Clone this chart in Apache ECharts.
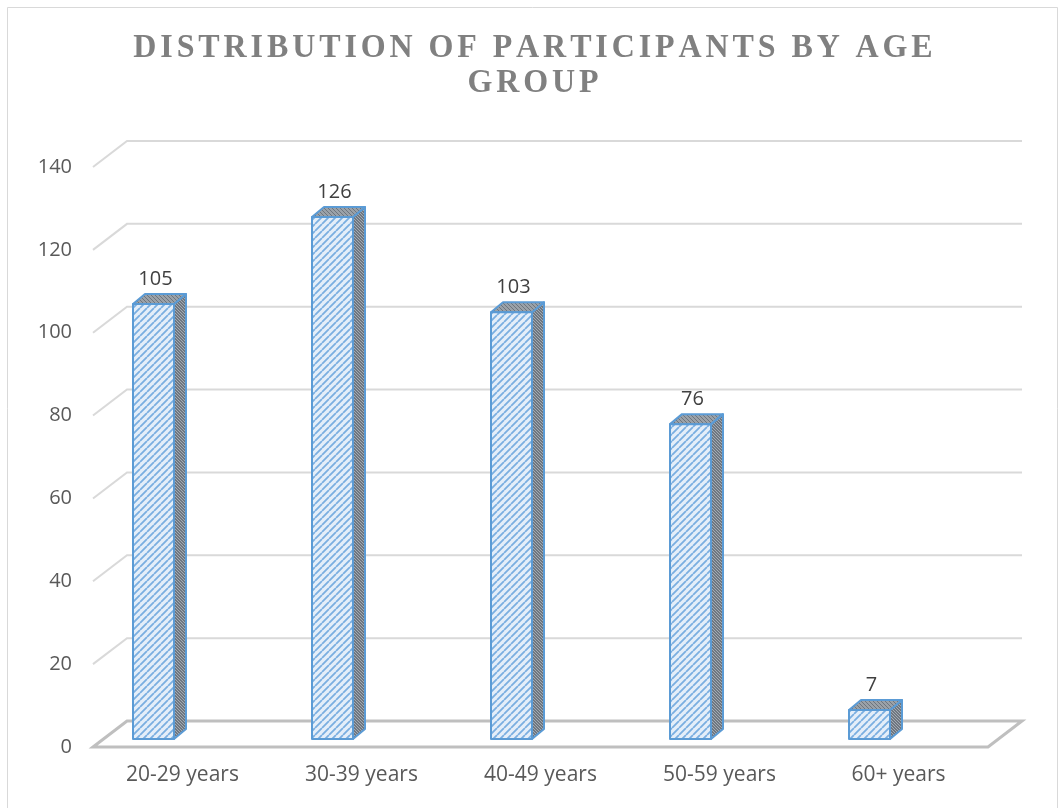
<!DOCTYPE html>
<html>
<head>
<meta charset="utf-8">
<script src="https://cdn.jsdelivr.net/npm/echarts@6/dist/echarts.min.js"></script>
<style>
  html, body { margin: 0; padding: 0; background: #ffffff; }
  #chart { width: 1059px; height: 808px; }
</style>
</head>
<body>
<div id="chart"></div>
<script>
// Age groups and participant counts
const categories = ['20-29 years', '30-39 years', '40-49 years', '50-59 years', '60+ years'];
const participants = [105, 126, 103, 76, 7];
const yTicks = [0, 20, 40, 60, 80, 100, 120, 140];
const titleLines = ['DISTRIBUTION OF PARTICIPANTS BY AGE', 'GROUP'];

// Oblique projection offsets (front plane -> back wall, bar face -> bar back)
const WALL_DX = 34, WALL_DY = -26;
const BAR_DX = 12, BAR_DY = -10;
const BAR_BASE_LIFT = 8;

const LABEL_FONT = '"Open Sans", Lato, sans-serif';
const TITLE_FONT = 'bold 32px "Liberation Serif", "DejaVu Serif", serif';
const TITLE_SPACING = 3.9;

function hatch(bg, fg, size, lw, dir) {
  const c = document.createElement('canvas');
  c.width = size; c.height = size;
  const g = c.getContext('2d');
  g.fillStyle = bg; g.fillRect(0, 0, size, size);
  g.strokeStyle = fg; g.lineWidth = lw;
  g.beginPath();
  for (let k = -1; k <= 1; k++) {
    if (dir > 0) {
      g.moveTo(k * size, size); g.lineTo(k * size + size, 0);
    } else {
      g.moveTo(k * size, 0); g.lineTo(k * size + size, size);
    }
  }
  g.stroke();
  return { image: c, repeat: 'repeat' };
}

const frontFill = hatch('#e4eef9', '#7aaee0', 7, 1.8, 1);
const sideFill = hatch('#6f7780', '#a3abb4', 3, 1, -1);
const topFill = hatch('#9aa1a8', '#6d757e', 4, 1, -1);

// Letter-spaced title line: one text element per glyph, centred on cx
const measureCtx = document.createElement('canvas').getContext('2d');
measureCtx.font = TITLE_FONT;
function spacedLine(str, cx, cy) {
  const widths = Array.from(str).map(ch => measureCtx.measureText(ch).width);
  const total = widths.reduce((a, b) => a + b, 0) + TITLE_SPACING * (widths.length - 1);
  let x = cx - total / 2;
  const children = [];
  Array.from(str).forEach((ch, i) => {
    if (ch !== ' ') {
      children.push({ type: 'text', x: x, y: cy, scaleY: 1.06, style: {
        text: ch, fill: '#808080', align: 'left', verticalAlign: 'middle', font: TITLE_FONT } });
    }
    x += widths[i] + TITLE_SPACING;
  });
  return { type: 'group', silent: true, children: children };
}

const chart = echarts.init(document.getElementById('chart'));

const option = {
  backgroundColor: '#ffffff',
  animation: false,
  graphic: [
    { type: 'rect', shape: { x: 7.5, y: 7.5, width: 1050, height: 810 },
      style: { fill: 'none', stroke: '#d9d9d9', lineWidth: 1 }, silent: true },
    spacedLine(titleLines[0], 533, 48),
    spacedLine(titleLines[1], 533, 83)
  ],
  grid: { left: 93, right: 71, top: 167, bottom: 61, containLabel: false },
  xAxis: {
    type: 'category',
    data: categories,
    axisLine: { show: false },
    axisTick: { show: false },
    axisLabel: { color: '#595959', fontSize: 21, fontFamily: LABEL_FONT, margin: 18 },
    splitLine: { show: false }
  },
  yAxis: {
    type: 'value',
    min: 0, max: 140, interval: 20,
    axisLine: { show: false },
    axisTick: { show: false },
    splitLine: { show: false },
    axisLabel: { color: '#595959', fontSize: 20, fontFamily: LABEL_FONT, margin: 21 }
  },
  series: [
    {
      // back wall gridlines and floor
      type: 'custom',
      coordinateSystem: 'cartesian2d',
      silent: true,
      z: 1,
      data: yTicks.map(v => [0, v]),
      renderItem: function (params, api) {
        const cs = params.coordSys;
        const v = api.value(1);
        const y = api.coord([0, v])[1];
        const x0 = cs.x, x1 = cs.x + cs.width;
        if (v === 0) {
          return {
            type: 'polygon',
            shape: { points: [[x0, y], [x0 + WALL_DX, y + WALL_DY], [x1 + WALL_DX, y + WALL_DY], [x1, y]] },
            style: { fill: 'none', stroke: '#bfbfbf', lineWidth: 3 }
          };
        }
        return {
          type: 'polyline',
          shape: { points: [[x0, y], [x0 + WALL_DX, y + WALL_DY], [x1 + WALL_DX, y + WALL_DY]] },
          style: { fill: 'none', stroke: '#d9d9d9', lineWidth: 2 }
        };
      }
    },
    {
      // 3D columns
      type: 'custom',
      coordinateSystem: 'cartesian2d',
      z: 5,
      data: participants.map((v, i) => [i, v]),
      renderItem: function (params, api) {
        const idx = api.value(0);
        const val = api.value(1);
        const base = api.coord([idx, 0]);
        const top = api.coord([idx, val]);
        const band = api.size([1, 0])[0];
        const left = base[0] - band * 0.2765;
        const w = band * 0.229;
        const yb = base[1] - BAR_BASE_LIFT;
        const yt = top[1] - BAR_BASE_LIFT;
        const right = left + w;
        const edge = { stroke: '#5b9bd5', lineWidth: 2, lineJoin: 'round' };
        return {
          type: 'group',
          children: [
            { type: 'polygon', shape: { points: [[right, yb], [right + BAR_DX, yb + BAR_DY], [right + BAR_DX, yt + BAR_DY], [right, yt]] },
              style: Object.assign({ fill: sideFill }, edge) },
            { type: 'polygon', shape: { points: [[left, yt], [left + BAR_DX, yt + BAR_DY], [right + BAR_DX, yt + BAR_DY], [right, yt]] },
              style: Object.assign({ fill: topFill }, edge) },
            { type: 'rect', shape: { x: left, y: yt, width: w, height: yb - yt },
              style: Object.assign({ fill: frontFill }, edge) },
            { type: 'text', x: left + w / 2 + 2, y: yt - 25, style: {
                text: String(val), fill: '#404040', align: 'center', verticalAlign: 'middle',
                font: '20px ' + LABEL_FONT } }
          ]
        };
      }
    }
  ]
};

chart.setOption(option);
</script>
</body>
</html>
